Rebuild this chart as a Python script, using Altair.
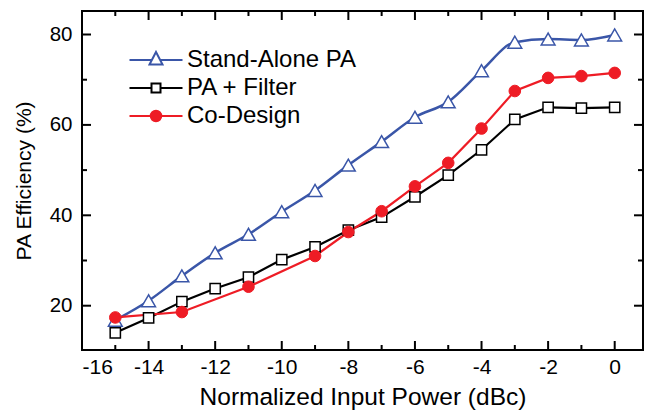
import altair as alt
import pandas as pd

# ---- data ----
x_main = list(range(-15, 1))
stand_alone = [16.8, 21.1, 26.6, 31.7, 35.8, 40.8, 45.5, 51.1, 56.3, 61.7, 65.1, 72.0, 78.3, 79.0, 78.8, 79.9]
pa_filter = [14.0, 17.3, 20.9, 23.8, 26.3, 30.2, 33.0, 36.7, 39.6, 44.1, 48.9, 54.5, 61.2, 63.9, 63.7, 63.9]
x_codesign = [-15, -13, -11, -9, -8, -7, -6, -5, -4, -3, -2, -1, 0]
codesign = [17.4, 18.6, 24.2, 31.0, 36.3, 40.9, 46.4, 51.6, 59.2, 67.5, 70.4, 70.8, 71.5]

series_names = ["Stand-Alone PA", "PA + Filter", "Co-Design"]
series_colors = ["#3A56A8", "#000000", "#EE1C25"]
series_fills = ["#FFFFFF", "#FFFFFF", "#EE1C25"]

x_labels = [-16, -14, -12, -10, -8, -6, -4, -2, 0]
x_major = [-14, -12, -10, -8, -6, -4, -2, 0]
x_minor = [-15, -13, -11, -9, -7, -5, -3, -1]
y_labels = [20, 40, 60, 80]
y_major = [20, 40, 60, 80]
y_minor = [30, 50, 70]

# ---- layout ----
W, H = 561, 339
FONT = "Liberation Sans"
MAJOR, MINOR = 9, 5

xscale = alt.Scale(domain=[-16, 0.85], nice=False, zero=False)
yscale = alt.Scale(domain=[10.2, 85.2], nice=False, zero=False)

xaxis = alt.Axis(values=x_labels, ticks=False, domain=False, grid=False,
                 labelExpr="'' + datum.value", labelFontSize=21, labelFont=FONT,
                 labelColor="black", labelPadding=6,
                 title="Normalized Input Power (dBc)", titleFontSize=24.5,
                 titleFont=FONT, titleFontWeight="normal", titleColor="black",
                 titlePadding=8)
yaxis = alt.Axis(values=y_labels, ticks=False, domain=False, grid=False,
                 labelFontSize=20.5, labelFont=FONT, labelColor="black",
                 labelPadding=10, title="PA Efficiency (%)", titleFontSize=21,
                 titleFont=FONT, titleFontWeight="normal", titleColor="black",
                 titlePadding=15)

df_sa = pd.DataFrame({"x": x_main, "y": stand_alone})
df_pf = pd.DataFrame({"x": x_main, "y": pa_filter})
df_cd = pd.DataFrame({"x": x_codesign, "y": codesign})

def X():
    return alt.X("x:Q", scale=xscale, axis=xaxis)

def Y():
    return alt.Y("y:Q", scale=yscale, axis=yaxis)

def enc(chart):
    return chart.encode(x=X(), y=Y())

line_sa = enc(alt.Chart(df_sa).mark_line(color=series_colors[0], strokeWidth=2.5,
                                          interpolate="monotone"))
line_pf = enc(alt.Chart(df_pf).mark_line(color=series_colors[1], strokeWidth=2.2))
line_cd = enc(alt.Chart(df_cd).mark_line(color=series_colors[2], strokeWidth=2.2))

pts_sa = enc(alt.Chart(df_sa).mark_point(shape="triangle-up", size=190, filled=True,
                                         fill="white", stroke=series_colors[0],
                                         strokeWidth=1.5, opacity=1))
pts_pf = enc(alt.Chart(df_pf).mark_point(shape="square", size=105, filled=True,
                                         fill="white", stroke=series_colors[1],
                                         strokeWidth=1.5, opacity=1))
pts_cd = enc(alt.Chart(df_cd).mark_point(shape="circle", size=135, filled=True,
                                         fill=series_colors[2], stroke=series_colors[2],
                                         strokeWidth=1, opacity=1))

# ---- inward ticks on all four sides ----
def xticks(values, length):
    d = pd.DataFrame({"x": values})
    bottom = alt.Chart(d).mark_rule(color="black", strokeWidth=2).encode(
        x=X(), y=alt.value(H), y2=alt.value(H - length))
    top = alt.Chart(d).mark_rule(color="black", strokeWidth=2).encode(
        x=X(), y=alt.value(0), y2=alt.value(length))
    return [bottom, top]

def yticks(values, length):
    d = pd.DataFrame({"y": values})
    left = alt.Chart(d).mark_rule(color="black", strokeWidth=2).encode(
        y=Y(), x=alt.value(0), x2=alt.value(length))
    right = alt.Chart(d).mark_rule(color="black", strokeWidth=2).encode(
        y=Y(), x=alt.value(W), x2=alt.value(W - length))
    return [left, right]

tick_layers = xticks(x_major, MAJOR) + xticks(x_minor, MINOR) + yticks(y_major, MAJOR) + yticks(y_minor, MINOR)

# ---- legend (line + marker symbols) ----
tri_path = "M-5.3,0H-0.83M0.83,0H5.3M0,-1.6L1.3,0.9L-1.3,0.9Z"
sq_path = "M-5.3,0H-0.9M0.9,0H5.3M-0.9,-0.9H0.9V0.9H-0.9Z"
circ_path = "M-5.3,0H5.3M-1.05,0A1.05,1.05,0,1,0,1.05,0A1.05,1.05,0,1,0,-1.05,0Z"

legend_props = dict(orient="none", legendX=40, legendY=37, title=None,
                    labelFontSize=24, labelFont=FONT, labelColor="black",
                    labelLimit=0,
                    symbolSize=100, symbolStrokeWidth=2, symbolOffset=22,
                    labelOffset=19, rowPadding=4, padding=0, direction="vertical")

legend_df = pd.DataFrame({"series": series_names})
legend_layer = alt.Chart(legend_df).transform_filter("false").mark_point(
    filled=False, opacity=1, strokeWidth=2).encode(
    color=alt.Color("series:N", scale=alt.Scale(domain=series_names, range=series_colors),
                    legend=alt.Legend(**legend_props)),
    fill=alt.Fill("series:N", scale=alt.Scale(domain=series_names, range=series_fills),
                  legend=alt.Legend(**legend_props)),
    shape=alt.Shape("series:N", scale=alt.Scale(domain=series_names,
                                                 range=[tri_path, sq_path, circ_path]),
                    legend=alt.Legend(**legend_props)),
)

chart = alt.layer(
    line_sa, line_pf, line_cd, pts_sa, pts_pf, pts_cd, *tick_layers, legend_layer
).properties(
    width=W, height=H,
    padding={"left": 82, "top": 11, "right": 3, "bottom": 60},
    autosize=alt.AutoSizeParams(type="none"),
    background="white",
).configure_view(stroke="black", strokeWidth=2)

chart.save("out.html", embed_options={"renderer": "svg", "actions": False})
